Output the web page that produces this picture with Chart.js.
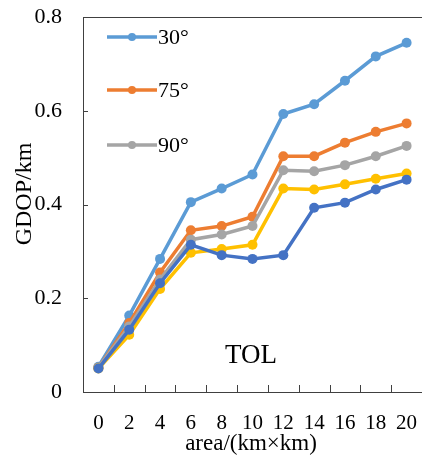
<!DOCTYPE html>
<html><head><meta charset="utf-8">
<script src="https://cdn.jsdelivr.net/npm/chart.js@4/dist/chart.umd.min.js"></script>
<style>html,body{margin:0;padding:0;background:#fff;overflow:hidden;width:422px;height:456px;}canvas{display:block;}</style>
</head><body>
<canvas id="c" width="427" height="456"></canvas>
<script>
const categories = ['0','2','4','6','8','10','12','14','16','18','20'];
const s30 = [0.054,0.163,0.284,0.405,0.434,0.464,0.593,0.614,0.664,0.716,0.745];
const s75 = [0.052,0.147,0.255,0.345,0.354,0.374,0.503,0.503,0.532,0.555,0.573];
const s90 = [0.052,0.140,0.240,0.325,0.336,0.354,0.473,0.471,0.484,0.503,0.525];
const sYellow = [0.050,0.122,0.220,0.297,0.305,0.314,0.434,0.432,0.443,0.455,0.466];
const sBlue = [0.050,0.133,0.232,0.314,0.292,0.284,0.292,0.393,0.404,0.432,0.453];
const legendLabels = ['30°','75°','90°'];
const yTicks = [0,0.2,0.4,0.6,0.8];
const FONT = "'Liberation Serif','Times New Roman',serif";
const AXIS_COLOR = '#404040';

function ds(label, data, color, order, legend){
  return {label, data, borderColor: color, backgroundColor: color, borderWidth: 3.5,
    pointRadius: 5, pointHoverRadius: 5, pointBorderWidth: 0, tension: 0, order, inLegend: legend};
}

const framePlugin = {
  id: 'frame',
  afterDraw(chart){
    const ctx = chart.ctx, a = chart.chartArea, x = chart.scales.x, y = chart.scales.y;
    ctx.save();
    ctx.fillStyle = AXIS_COLOR;
    const L = Math.round(a.left), T = Math.round(a.top), R = Math.round(a.right), B = Math.round(a.bottom);
    ctx.fillRect(L, T, R - L, 1);
    // inward ticks on y axis
    yTicks.forEach(v => { const py = Math.round(y.getPixelForValue(v)); ctx.fillRect(L, py, 5, 1); });
    // inward ticks on x axis, between categories
    const n = categories.length;
    for (let i = 0; i < n; i++){
      const c0 = x.getPixelForTick(i);
      const c1 = i < n-1 ? x.getPixelForTick(i+1) : c0 + (c0 - x.getPixelForTick(i-1));
      const px = Math.round((c0 + c1) / 2);
      ctx.fillRect(px, B - 7, 1, 7);
    }
    // legend
    const rows = [37, 90, 145];
    chart.data.datasets.filter(d=>d.inLegend).forEach((d,i)=>{
      ctx.strokeStyle = d.borderColor; ctx.lineWidth = 3.5;
      ctx.beginPath(); ctx.moveTo(107, rows[i]); ctx.lineTo(157, rows[i]); ctx.stroke();
      ctx.fillStyle = d.borderColor; ctx.beginPath(); ctx.arc(132, rows[i], 4, 0, Math.PI*2); ctx.fill();
      ctx.fillStyle = '#000'; ctx.font = '22px ' + FONT; ctx.textBaseline = 'middle'; ctx.textAlign = 'left';
      ctx.fillText(legendLabels[i], 158, rows[i]+1);
    });
    // TOL label
    ctx.fillStyle = '#000'; ctx.font = '27px ' + FONT; ctx.textAlign = 'center'; ctx.textBaseline = 'middle';
    ctx.fillText('TOL', 251, 356);
    // axis titles
    ctx.font = '23px ' + FONT;
    ctx.fillText('area/(km×km)', 251, 444);
    ctx.save();
    ctx.translate(25, 194); ctx.rotate(-Math.PI/2);
    ctx.font = '24px ' + FONT;
    ctx.fillText('GDOP/km', 0, 0);
    ctx.restore();
    ctx.restore();
  }
};

new Chart(document.getElementById('c'), {
  type: 'line',
  data: { labels: categories, datasets: [
    ds(legendLabels[0], s30, '#5B9BD5', 5, true),
    ds(legendLabels[1], s75, '#ED7D31', 4, true),
    ds(legendLabels[2], s90, '#A5A5A5', 3, true),
    ds('', sYellow, '#FFC000', 2, false),
    ds('', sBlue, '#4472C4', 1, false)
  ]},
  options: {
    responsive: false, animation: false,
    layout: { padding: { top: 17, right: 0, left: 0, bottom: 0 } },
    plugins: { legend: { display: false }, tooltip: { enabled: false } },
    scales: {
      x: {
        type: 'category', offset: true,
        grid: { display: true, offset: true, drawOnChartArea: false, drawTicks: false },
        border: { display: true, color: AXIS_COLOR, width: 1 },
        ticks: { color: '#000', font: { family: FONT, size: 21 }, padding: 19, maxRotation: 0, autoSkip: false },
        afterFit(s){ s.height = 64; s.paddingLeft = 0; s.paddingRight = 0; }
      },
      y: {
        min: 0, max: 0.8,
        afterBuildTicks(s){ s.ticks = yTicks.map(v=>({value:v})); },
        grid: { display: true, drawOnChartArea: false, drawTicks: false },
        border: { display: true, color: AXIS_COLOR, width: 1 },
        ticks: { color: '#000', font: { family: FONT, size: 22 }, padding: 21,
          callback: v => v === 0 ? '0' : v.toFixed(1) },
        afterFit(s){ s.width = 83; s.paddingTop = 0; s.paddingBottom = 0; }
      }
    }
  },
  plugins: [framePlugin]
});
</script>
</body></html>
